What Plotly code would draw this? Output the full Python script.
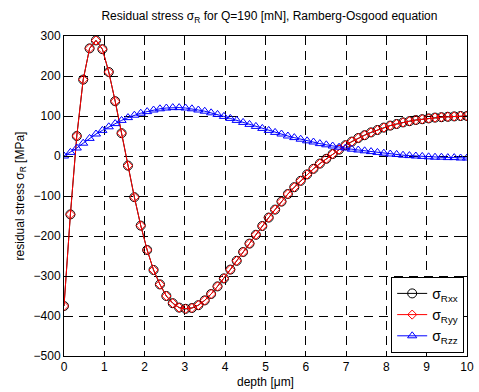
import numpy as np
import plotly.graph_objects as go

# depth samples [um]
depth = np.linspace(0, 10, 64)

# residual stress components [MPa]
sigma_rxx = [
    -375, -146, 50, 191, 269, 289, 267, 210, 137, 57,
    -24, -103, -174, -235, -285, -321, -350, -368, -379, -382,
    -380, -373, -361, -345, -326, -306, -284, -262, -240, -219,
    -197, -175, -154, -134, -114, -95, -78, -62, -46, -32,
    -19, -7, 5, 16, 27, 36, 45, 52, 59, 65,
    71, 76, 80, 84, 87, 90, 92, 94, 96, 97,
    98, 99, 100, 100,
]
sigma_ryy = list(sigma_rxx)
sigma_rzz = [
    0, 9, 20, 32, 44, 55, 64, 73, 81, 89,
    96, 102, 107, 111, 115, 118, 120, 121, 121, 120,
    118, 115, 112, 108, 104, 99, 94, 89, 84, 79,
    74, 69, 64, 59, 55, 50, 46, 42, 38, 35,
    31, 28, 25, 22, 20, 17, 15, 13, 11, 9,
    7, 5, 4, 2, 1, 0, -1, -2, -3, -3,
    -4, -4, -5, -5,
]

x_ticks = list(range(0, 11))
y_ticks = list(range(-500, 301, 100))

FONT = "Liberation Sans, Arial, sans-serif"

fig = go.Figure()
fig.add_trace(go.Scatter(
    x=depth, y=sigma_rxx, name="σ<sub>Rxx</sub>", mode="lines+markers",
    line=dict(color="black", width=1),
    marker=dict(symbol="circle-open", size=9, color="black", line=dict(width=1)),
))
fig.add_trace(go.Scatter(
    x=depth, y=sigma_ryy, name="σ<sub>Ryy</sub>", mode="lines+markers",
    line=dict(color="#ff0000", width=1),
    marker=dict(symbol="diamond-open", size=7, color="#ff0000", line=dict(width=1)),
))
fig.add_trace(go.Scatter(
    x=depth, y=sigma_rzz, name="σ<sub>Rzz</sub>", mode="lines+markers",
    line=dict(color="#0000ff", width=1),
    marker=dict(symbol="triangle-up-open", size=8, color="#0000ff", line=dict(width=1)),
))

axis_common = dict(
    showline=True, linecolor="black", linewidth=1, mirror="ticks",
    ticks="inside", ticklen=4, tickcolor="black",
    showgrid=True, gridcolor="black", gridwidth=1, griddash="9px,6px",
    zeroline=False, ticklabeloverflow="allow",
    tickfont=dict(family=FONT, size=12, color="black"),
)

fig.update_xaxes(
    range=[0, 10], tickvals=x_ticks,
    title=dict(text="depth [μm]", font=dict(family=FONT, size=12, color="black"), standoff=4),
    **axis_common,
)
fig.update_yaxes(
    range=[-500, 300], tickvals=y_ticks,
    title=dict(text="residual stress σ<sub>R</sub> [MPa]", font=dict(family=FONT, size=12, color="black"), standoff=6),
    **axis_common,
)

fig.update_layout(
    width=479, height=392,
    margin=dict(l=64, r=5, t=36, b=35),
    paper_bgcolor="white", plot_bgcolor="white",
    title=dict(
        text="Residual stress σ<sub>R</sub> for Q=190 [mN], Ramberg-Osgood equation",
        font=dict(family=FONT, size=12, color="black"),
        x=0.5625, xanchor="center", y=0.97, yanchor="top",
    ),
    legend=dict(
        x=0.993, xanchor="right", y=0.01, yanchor="bottom",
        bgcolor="white", bordercolor="black", borderwidth=1,
        font=dict(family=FONT, size=14, color="black"),
        tracegroupgap=0,
    ),
    showlegend=True,
)

fig.write_html("out.html")
